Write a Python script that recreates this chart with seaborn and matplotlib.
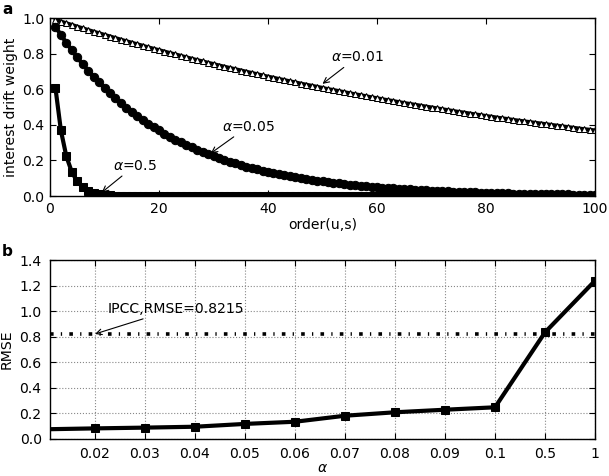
import matplotlib
matplotlib.use('Agg')
import matplotlib.pyplot as plt
import seaborn as sns

# panel a: interest drift weight vs order(u,s)
order = list(range(1, 101))
w_001 = [0.990, 0.980, 0.970, 0.961, 0.951, 0.942, 0.932, 0.923, 0.914, 0.905,
         0.896, 0.887, 0.878, 0.869, 0.861, 0.852, 0.844, 0.835, 0.827, 0.819,
         0.811, 0.803, 0.795, 0.787, 0.779, 0.771, 0.763, 0.756, 0.748, 0.741,
         0.733, 0.726, 0.719, 0.712, 0.705, 0.698, 0.691, 0.684, 0.677, 0.670,
         0.664, 0.657, 0.651, 0.644, 0.638, 0.631, 0.625, 0.619, 0.613, 0.607,
         0.600, 0.595, 0.589, 0.583, 0.577, 0.571, 0.566, 0.560, 0.554, 0.549,
         0.543, 0.538, 0.533, 0.527, 0.522, 0.517, 0.512, 0.507, 0.502, 0.497,
         0.492, 0.487, 0.482, 0.477, 0.472, 0.468, 0.463, 0.458, 0.454, 0.449,
         0.445, 0.440, 0.436, 0.432, 0.427, 0.423, 0.419, 0.415, 0.411, 0.407,
         0.403, 0.399, 0.395, 0.391, 0.387, 0.383, 0.379, 0.375, 0.372, 0.368]
w_005 = [0.951, 0.905, 0.861, 0.819, 0.779, 0.741, 0.705, 0.670, 0.638, 0.607,
         0.577, 0.549, 0.522, 0.497, 0.472, 0.449, 0.427, 0.407, 0.387, 0.368,
         0.350, 0.333, 0.317, 0.301, 0.287, 0.273, 0.259, 0.247, 0.235, 0.223,
         0.212, 0.202, 0.192, 0.183, 0.174, 0.165, 0.157, 0.150, 0.142, 0.135,
         0.129, 0.122, 0.116, 0.111, 0.105, 0.100, 0.095, 0.091, 0.086, 0.082,
         0.078, 0.074, 0.071, 0.067, 0.064, 0.061, 0.058, 0.055, 0.052, 0.050,
         0.047, 0.045, 0.043, 0.041, 0.039, 0.037, 0.035, 0.033, 0.032, 0.030,
         0.029, 0.027, 0.026, 0.025, 0.024, 0.022, 0.021, 0.020, 0.019, 0.018,
         0.017, 0.017, 0.016, 0.015, 0.014, 0.014, 0.013, 0.012, 0.012, 0.011,
         0.011, 0.010, 0.010, 0.009, 0.009, 0.008, 0.008, 0.007, 0.007, 0.007]
w_05 = [0.607, 0.368, 0.223, 0.135, 0.082, 0.050, 0.030, 0.018, 0.011, 0.007,
        0.004, 0.002, 0.002, 0.001, 0.001, 0.000, 0.000, 0.000, 0.000, 0.000,
        0.000, 0.000, 0.000, 0.000, 0.000, 0.000, 0.000, 0.000, 0.000, 0.000,
        0.000, 0.000, 0.000, 0.000, 0.000, 0.000, 0.000, 0.000, 0.000, 0.000,
        0.000, 0.000, 0.000, 0.000, 0.000, 0.000, 0.000, 0.000, 0.000, 0.000,
        0.000, 0.000, 0.000, 0.000, 0.000, 0.000, 0.000, 0.000, 0.000, 0.000,
        0.000, 0.000, 0.000, 0.000, 0.000, 0.000, 0.000, 0.000, 0.000, 0.000,
        0.000, 0.000, 0.000, 0.000, 0.000, 0.000, 0.000, 0.000, 0.000, 0.000,
        0.000, 0.000, 0.000, 0.000, 0.000, 0.000, 0.000, 0.000, 0.000, 0.000,
        0.000, 0.000, 0.000, 0.000, 0.000, 0.000, 0.000, 0.000, 0.000, 0.000]

# panel b: RMSE per alpha
alpha_labels = ['0.01', '0.02', '0.03', '0.04', '0.05', '0.06', '0.07',
                '0.08', '0.09', '0.1', '0.5', '1']
rmse = [0.076, 0.083, 0.089, 0.096, 0.118, 0.135, 0.182, 0.209, 0.229,
        0.248, 0.834, 1.238]
ipcc_rmse = 0.8215

sns.set_theme(style='ticks', rc={
    'xtick.direction': 'in', 'ytick.direction': 'in',
    'xtick.top': True, 'ytick.right': True,
    'axes.linewidth': 1.0,
    'axes.edgecolor': 'black', 'axes.labelcolor': 'black',
    'text.color': 'black', 'xtick.color': 'black', 'ytick.color': 'black',
})
plt.rcParams['font.family'] = ['DejaVu Sans']
fs = 10.1

fig = plt.figure(figsize=(6.09, 4.76), dpi=100)
W, H = 609, 476
ax1 = fig.add_axes([50 / W, 1 - 196 / H, 545 / W, 178 / H])
ax2 = fig.add_axes([50 / W, 1 - 439 / H, 545 / W, 179 / H])

# ---- panel a
sns.lineplot(x=order, y=w_001, ax=ax1, color='black', lw=3, marker='^',
             markersize=4, markeredgecolor='black', markerfacecolor='white')
sns.lineplot(x=order, y=w_005, ax=ax1, color='black', lw=3, marker='o',
             markersize=6, markeredgecolor='black')
sns.lineplot(x=order, y=w_05, ax=ax1, color='black', lw=3, marker='s',
             markersize=6, markeredgecolor='black')
ax1.set_xlim(0, 100)
ax1.set_ylim(0, 1.0)
ax1.set_xticks([0, 20, 40, 60, 80, 100])
ax1.set_yticks([0.0, 0.2, 0.4, 0.6, 0.8, 1.0])
ax1.set_yticklabels(['0.0', '0.2', '0.4', '0.6', '0.8', '1.0'])
ax1.tick_params(labelsize=fs, length=4, width=0.8, pad=4)
ax1.set_xlabel('order(u,s)', fontsize=fs, labelpad=2)
ax1.set_ylabel('interest drift weight', fontsize=fs, labelpad=3)

arrow = dict(arrowstyle='->', color='black', lw=0.8, shrinkA=0, shrinkB=0)
ax1.annotate(r'$\alpha$=0.01', xy=(50, 0.63), xytext=(51.5, 0.78),
             fontsize=fs, va='center', arrowprops=arrow)
ax1.annotate(r'$\alpha$=0.05', xy=(29.5, 0.24), xytext=(31.5, 0.39),
             fontsize=fs, va='center', arrowprops=arrow)
ax1.annotate(r'$\alpha$=0.5', xy=(9.5, 0.02), xytext=(11.5, 0.17),
             fontsize=fs, va='center', arrowprops=arrow)

# ---- panel b
pos = list(range(len(alpha_labels)))
sns.lineplot(x=pos, y=rmse, ax=ax2, color='black', lw=3, marker='s',
             markersize=6, markeredgecolor='black')
ax2.axhline(ipcc_rmse, color='black', lw=2.6, dashes=(1, 2.0, 0.35, 2.0))
ax2.set_xlim(0.1, 11)
ax2.set_ylim(0, 1.4)
ax2.set_xticks(pos[1:])
ax2.set_xticklabels(alpha_labels[1:])
ax2.set_yticks([0.0, 0.2, 0.4, 0.6, 0.8, 1.0, 1.2, 1.4])
ax2.set_yticklabels(['0.0', '0.2', '0.4', '0.6', '0.8', '1.0', '1.2', '1.4'])
ax2.grid(True, color='#888888', ls=':', lw=0.8)
ax2.tick_params(labelsize=fs, length=4, width=0.8, pad=6)
ax2.set_xlabel(r'$\alpha$', fontsize=fs, labelpad=0)
ax2.set_ylabel('RMSE', fontsize=fs, labelpad=4)
ax2.annotate('IPCC,RMSE=0.8215', xy=(1, ipcc_rmse), xytext=(1.25, 1.02),
             fontsize=fs, va='center', arrowprops=arrow)

fig.text(2 / W, 1 - 2 / H, 'a', fontsize=11, fontweight='bold', va='top')
fig.text(2 / W, 1 - 244 / H, 'b', fontsize=11, fontweight='bold', va='top')

fig.savefig('out.png', dpi=100)
